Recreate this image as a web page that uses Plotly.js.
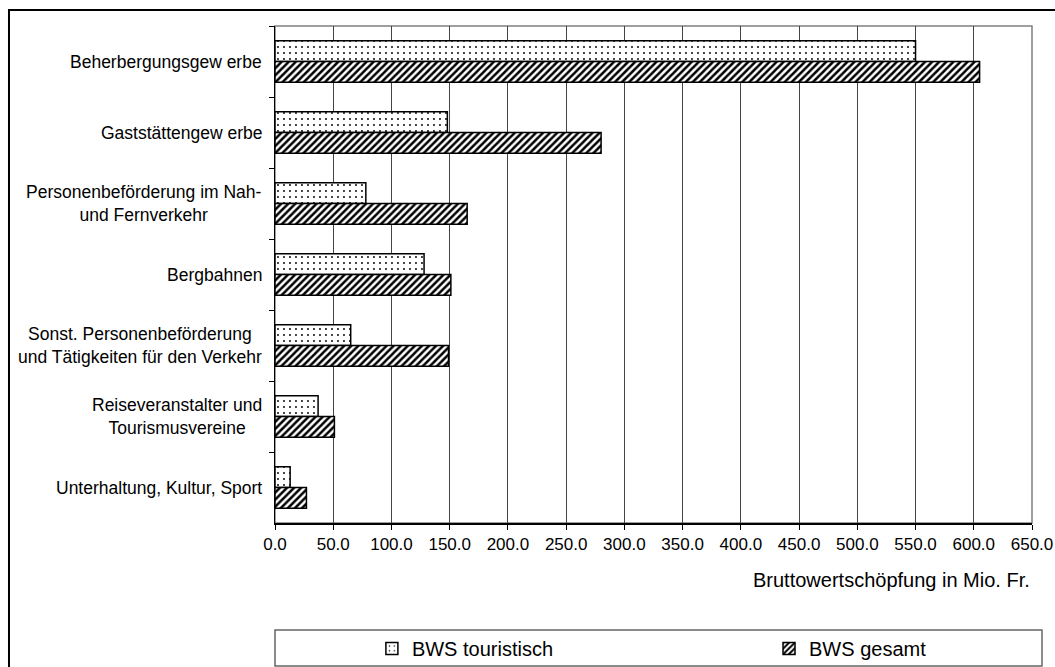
<!DOCTYPE html>
<html>
<head>
<meta charset="utf-8">
<script src="https://cdn.plot.ly/plotly-3.0.1.min.js"></script>
<style>
  html, body { margin: 0; padding: 0; background: #ffffff; }
  #chart { width: 1055px; height: 667px; }
</style>
</head>
<body>
<div id="chart"></div>
<script>
// ---- data ----
const categories = [
  'Beherbergungsgew erbe',
  'Gaststättengew erbe',
  'Personenbeförderung im Nah-<br>und Fernverkehr',
  'Bergbahnen',
  'Sonst. Personenbeförderung<br>und Tätigkeiten für den Verkehr',
  'Reiseveranstalter und<br>Tourismusvereine',
  'Unterhaltung, Kultur, Sport'
];
const bwsTouristisch = [550, 148, 78, 128, 65, 37, 13];
const bwsGesamt      = [605, 280, 165, 151, 149, 51, 27];
const seriesNames = ['BWS touristisch', 'BWS gesamt'];
const xTickValues = [0, 50, 100, 150, 200, 250, 300, 350, 400, 450, 500, 550, 600, 650];
const xAxisTitle = 'Bruttowertschöpfung in Mio. Fr.';

const FONT = 'Liberation Sans, Arial, sans-serif';

const traces = [
  {
    type: 'bar', orientation: 'h',
    name: seriesNames[0],
    x: bwsTouristisch, y: categories,
    marker: {
      color: '#ffffff',
      line: { color: '#000000', width: 1.5 },
      pattern: { shape: '.', fgcolor: '#000000', bgcolor: '#ffffff', size: 6, solidity: 0.08 }
    },
    legend: 'legend',
    hoverinfo: 'skip'
  },
  {
    type: 'bar', orientation: 'h',
    name: seriesNames[1],
    x: bwsGesamt, y: categories,
    marker: {
      color: '#ffffff',
      line: { color: '#000000', width: 1.5 },
      pattern: { shape: '/', fgcolor: '#000000', bgcolor: '#ffffff', size: 5, solidity: 0.5 }
    },
    legend: 'legend2',
    hoverinfo: 'skip'
  }
];

const annotations = categories.map(c => ({
  xref: 'paper', yref: 'y',
  x: 0, y: c,
  xanchor: 'right', yanchor: 'middle',
  xshift: -11,
  align: 'center',
  showarrow: false,
  text: c,
  font: { family: FONT, size: 17.5, color: '#000000' }
}));
annotations.push({
  xref: 'paper', yref: 'paper',
  x: 1, y: -0.1147,
  xanchor: 'right', yanchor: 'middle',
  showarrow: false,
  text: xAxisTitle,
  font: { family: FONT, size: 20, color: '#000000' }
});

const layout = {
  width: 1055, height: 667,
  margin: { l: 275, r: 23, t: 26, b: 144, autoexpand: false },
  paper_bgcolor: '#ffffff',
  plot_bgcolor: '#ffffff',
  font: { family: FONT, size: 17, color: '#000000' },
  barmode: 'group',
  bargap: 0.414,
  bargroupgap: 0,
  xaxis: {
    range: [0, 650],
    tickvals: xTickValues,
    tickformat: '.1f',
    showgrid: true, gridcolor: '#444444', gridwidth: 1,
    zeroline: false,
    showline: true, linecolor: '#000000', linewidth: 1.5,
    ticks: 'outside', ticklen: 5, tickcolor: '#000000', tickwidth: 1,
    tickfont: { family: FONT, size: 17, color: '#000000' },
    fixedrange: true
  },
  yaxis: {
    type: 'category',
    autorange: 'reversed',
    showticklabels: false,
    tickson: 'boundaries',
    ticks: 'outside', ticklen: 5, tickcolor: '#000000', tickwidth: 1,
    showgrid: false, zeroline: false,
    showline: true, linecolor: '#000000', linewidth: 1.5,
    fixedrange: true
  },
  showlegend: true,
  legend: {
    orientation: 'h', x: 0.128, y: -0.2523, xanchor: 'left', yanchor: 'middle',
    bgcolor: 'rgba(0,0,0,0)', borderwidth: 0,
    font: { family: FONT, size: 20, color: '#000000' }
  },
  legend2: {
    orientation: 'h', x: 0.6526, y: -0.2523, xanchor: 'left', yanchor: 'middle',
    bgcolor: 'rgba(0,0,0,0)', borderwidth: 0,
    font: { family: FONT, size: 20, color: '#000000' }
  },
  annotations: annotations,
  shapes: [
    // plot-area frame (top/right in gray)
    { type: 'rect', xref: 'paper', yref: 'paper', x0: 0, x1: 1, y0: 0, y1: 1,
      line: { color: '#808080', width: 1.5 }, layer: 'below' },
    // outer chart frame
    { type: 'rect', xref: 'paper', yref: 'paper', x0: -0.3514, x1: 1.06, y0: -0.35, y1: 1.0322,
      line: { color: '#000000', width: 2 }, layer: 'below' },
    // legend box
    { type: 'rect', xref: 'paper', yref: 'paper', x0: 0, x1: 1.0132, y0: -0.2877, y1: -0.2153,
      line: { color: '#666666', width: 1.5 }, layer: 'below' }
  ]
};

Plotly.newPlot('chart', traces, layout, { displayModeBar: false, staticPlot: true });
</script>
</body>
</html>
